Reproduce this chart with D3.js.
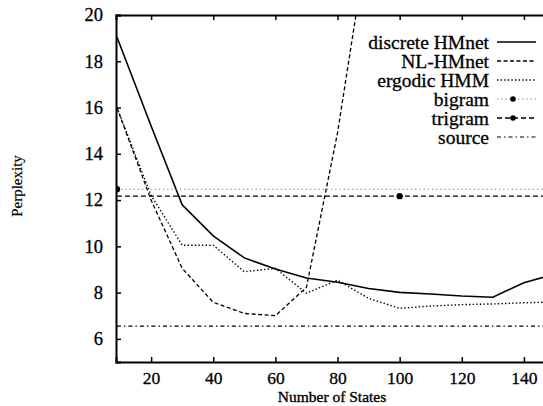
<!DOCTYPE html>
<html>
<head>
<meta charset="utf-8">
<script src="https://cdn.jsdelivr.net/npm/d3@7"></script>
<style>
body{margin:0;background:#fff}
</style>
</head>
<body>
<svg id="canvas" width="543" height="406"></svg>
<script>
// number of states (x values)
const states=[9,20,30,40,50,60,70,80,90,100,110,120,130,140,150]
const discreteHMnet=[19.05,15.2,11.8,10.45,9.5,9.02,8.63,8.45,8.18,8.01,7.94,7.85,7.8,8.43,8.8]
const nlStates=[9,20,30,40,50,60,70,80,90]
const nlHMnet=[16.0,12.0,9.05,7.58,7.1,7.0,8.23,14.9,23.5]
const ergodicHMM=[16.0,12.2,10.05,10.05,8.9,9.05,7.97,8.54,7.75,7.32,7.42,7.48,7.51,7.56,7.6]
const bigram=12.47
const trigram=12.17
const source=6.55
const bigramMarks=[9]
const trigramMarks=[100]
const xTicks=[20,40,60,80,100,120,140]
const yTicks=[6,8,10,12,14,16,18,20]
const legendNames=["discrete HMnet","NL-HMnet","ergodic HMM","bigram","trigram","source"]

const serif='"Liberation Serif","Times New Roman",Times,"DejaVu Serif",serif'
const canvas=d3.select("#canvas")
const x=d3.scaleLinear().domain([8.7,150]).range([116,555])
const y=d3.scaleLinear().domain([5,20]).range([362,15])

canvas.append("clipPath").attr("id","plot")
    .append("rect").attr("x",116).attr("y",15).attr("width",440).attr("height",347)

const styles={
    "discrete HMnet":{dash:null,color:"#000",w:1.6},
    "NL-HMnet":{dash:"4,2.5",color:"#000",w:1.3},
    "ergodic HMM":{dash:"1.4,2.2",color:"#000",w:1.4},
    "bigram":{dash:"1.2,3",color:"#777",w:1.1},
    "trigram":{dash:"5,3",color:"#000",w:1.3},
    "source":{dash:"4,3,1.5,3",color:"#000",w:1.2}
}

const series=[
    {name:"discrete HMnet",xs:states,ys:discreteHMnet},
    {name:"NL-HMnet",xs:nlStates,ys:nlHMnet},
    {name:"ergodic HMM",xs:states,ys:ergodicHMM},
    {name:"bigram",xs:states,ys:states.map(()=>bigram)},
    {name:"trigram",xs:states,ys:states.map(()=>trigram)},
    {name:"source",xs:states,ys:states.map(()=>source)}
]

const line=d3.line().x(d=>x(d[0])).y(d=>y(d[1]))
const plot=canvas.append("g").attr("clip-path","url(#plot)")
series.forEach(s=>{
    const st=styles[s.name]
    plot.append("path")
        .attr("d",line(s.xs.map((v,i)=>[v,s.ys[i]])))
        .attr("fill","none")
        .attr("stroke",st.color)
        .attr("stroke-width",st.w)
        .attr("stroke-dasharray",st.dash)
})
plot.selectAll(".bmark").data(bigramMarks).enter().append("circle")
    .attr("cx",d=>x(d)).attr("cy",y(bigram)).attr("r",3.2).attr("fill","#000")
plot.selectAll(".tmark").data(trigramMarks).enter().append("circle")
    .attr("cx",d=>x(d)).attr("cy",y(trigram)).attr("r",3.2).attr("fill","#000")

// axes
const xAxis=canvas.append("g").attr("transform","translate(0,362)")
    .call(d3.axisBottom(x).tickValues(xTicks).tickSize(-5).tickFormat(d3.format("d")))
const xTop=canvas.append("g").attr("transform","translate(0,15)")
    .call(d3.axisTop(x).tickValues(xTicks).tickSize(-5).tickFormat(""))
const yAxis=canvas.append("g").attr("transform","translate(116,0)")
    .call(d3.axisLeft(y).tickValues(yTicks).tickSize(-5).tickPadding(13).tickFormat(d3.format("d")))
;[xAxis,xTop,yAxis].forEach(a=>{
    a.attr("font-family",serif).attr("font-size",18.5)
    a.select(".domain").attr("stroke","#000").attr("stroke-width",2)
    a.selectAll(".tick line").attr("stroke","#000").attr("stroke-width",1.5)
    a.selectAll("text").attr("fill","#000").attr("stroke","#000").attr("stroke-width",0.3)
})
xAxis.attr("font-size",17.5)
xAxis.selectAll("text").attr("y",22).attr("dy",null)

canvas.append("text").text("Number of States")
    .attr("x",332).attr("y",402).attr("text-anchor","middle")
    .attr("font-family",serif).attr("font-size",15.5)
    .attr("stroke","#000").attr("stroke-width",0.35)
canvas.append("text").text("Perplexity")
    .attr("transform","translate(22,186) rotate(-90)")
    .attr("text-anchor","middle").attr("font-family",serif).attr("font-size",15)
    .attr("stroke","#000").attr("stroke-width",0.2)

// legend
const legend=canvas.append("g")
legendNames.forEach((n,i)=>{
    const ly=42+i*19
    const st=styles[n]
    legend.append("text").text(n).attr("x",489).attr("y",ly).attr("dy","0.35em")
        .attr("text-anchor","end").attr("font-family",serif).attr("font-size",19.5)
        .attr("stroke","#000").attr("stroke-width",0.3)
    legend.append("line").attr("x1",497).attr("x2",536).attr("y1",ly).attr("y2",ly)
        .attr("stroke",st.color).attr("stroke-width",st.w).attr("stroke-dasharray",st.dash)
    if(n==="bigram"||n==="trigram"){
        legend.append("circle").attr("cx",513).attr("cy",ly).attr("r",2.8).attr("fill","#000")
    }
})
</script>
</body>
</html>
